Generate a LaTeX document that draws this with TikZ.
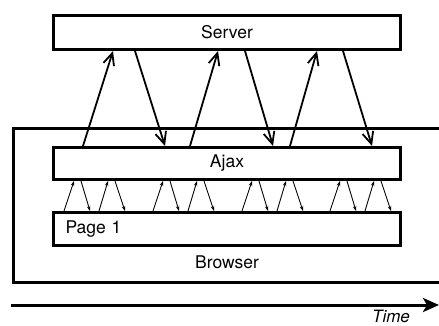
\documentclass[tikz,border=0pt]{standalone}
\usepackage{fontspec}
\setmainfont{TeX Gyre Heros}
\usetikzlibrary{arrows.meta}

\tikzset{
	box/.style={draw, fill=white, line width=3pt, inner sep=0pt, minimum width=347pt, font=\fontsize{17.5}{20}\selectfont},
	call/.style={line width=1.8pt, -{Straight Barb[length=12pt,width=11pt,line width=1.8pt]}},
	event/.style={line width=0.9pt, -{Stealth[length=5pt,width=3.5pt]}}
}

\begin{document}
\begin{tikzpicture}[x=1pt, y=-1pt]
			\clip (0,0) rectangle (439,326);
			% \draw[help lines] (0,0) grid[step=20] (439,326);
			\node[box, minimum width=470pt, minimum height=153pt, anchor=north west] (browser) at (11.5,127.5) {};
			\node[font=\fontsize{17.5}{20}\selectfont, anchor=base] (browsertext) at (227,268) {Browser};

			\node[box, minimum height=34pt] (server) at (227,32.5) {Server};
			\node[box, minimum height=32pt] (ajax) at (227,163.5) {Ajax};
			\node[box, minimum height=33pt, text width=323pt, inner xsep=12pt, minimum width=0pt, align=left] (page) at (227,229) {Page 1};

			% ajax <-> server
			\foreach \a/\b/\c/\d in {31/61/83/113, 138/166/193/221, 238/265/291/320} {
				\draw[call] ([xshift=\a pt]ajax.north west) -- ([xshift=\b pt]server.south west);
				\draw[call] ([xshift=\c pt]server.south west) -- ([xshift=\d pt]ajax.north west);
			}

			% page <-> ajax
			\foreach \g in {12,101,190,278} {
				\draw[event] ([xshift=\g pt]page.north west) -- ([xshift=\g pt+10pt]ajax.south west);
				\draw[event] ([xshift=\g pt+17pt]ajax.south west) -- ([xshift=\g pt+26pt]page.north west);
				\draw[event] ([xshift=\g pt+35pt]page.north west) -- ([xshift=\g pt+44pt]ajax.south west);
				\draw[event] ([xshift=\g pt+51pt]ajax.south west) -- ([xshift=\g pt+61pt]page.north west);
			}

			\coordinate (timestart) at (11,305);
			\coordinate (timeend) at (439,305);
			\draw[line width=3pt, -{Stealth[length=16pt,width=14pt,inset=4pt]}] (timestart) -- (timeend);
			\node[font=\fontsize{17}{20}\selectfont\itshape, anchor=base] (time) at (391,322) {Time};
		\end{tikzpicture}
\end{document}
